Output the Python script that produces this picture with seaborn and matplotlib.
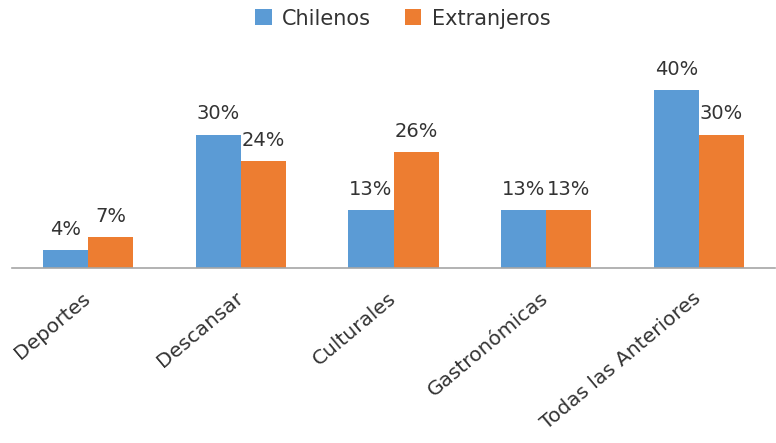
import pandas as pd
import seaborn as sns
import matplotlib.pyplot as plt

# Datos
categorias = ["Deportes", "Descansar", "Culturales", "Gastronómicas", "Todas las Anteriores"]
chilenos = [4, 30, 13, 13, 40]
extranjeros = [7, 24, 26, 13, 30]
grupos = ["Chilenos", "Extranjeros"]

df = pd.DataFrame({
    "categoria": categorias * 2,
    "valor": chilenos + extranjeros,
    "grupo": [grupos[0]] * len(categorias) + [grupos[1]] * len(categorias),
})

sns.set_style("white")
plt.rcParams["font.family"] = ["DejaVu Sans"]

fig = plt.figure(figsize=(7.76, 4.43), dpi=100)
ax = fig.add_axes([12 / 776, 1 - 268 / 443, 763 / 776, 218 / 443])

sns.barplot(
    data=df, x="categoria", y="valor", hue="grupo",
    palette=["#5B9BD5", "#ED7D31"], width=0.59, saturation=1,
    linewidth=0, ax=ax,
)

for cont in ax.containers:
    ax.bar_label(cont, labels=[f"{v:.0f}%" for v in cont.datavalues],
                 padding=8, fontsize=14, color="#333333")

ax.set_ylim(0, 49)
ax.set_xlim(-0.5, 4.5)
ax.set_xlabel("")
ax.set_ylabel("")
ax.set_yticks([])
for s in ["top", "left", "right"]:
    ax.spines[s].set_visible(False)
ax.spines["bottom"].set_color("#A6A6A6")
ax.spines["bottom"].set_linewidth(1.2)

ax.tick_params(axis="x", length=0, pad=20)
plt.setp(ax.get_xticklabels(), rotation=40, ha="right", va="center",
         rotation_mode="anchor", fontsize=14.5, color="#333333")

handles, labels = ax.get_legend_handles_labels()
ax.get_legend().remove()
fig.legend(handles, labels, loc="center", bbox_to_anchor=(0.519, 0.958),
           ncol=2, frameon=False, fontsize=15, handlelength=0.8,
           handleheight=0.8, handletextpad=0.5, columnspacing=1.6,
           labelcolor="#333333")

plt.savefig("out.png", dpi=100)
plt.close()
